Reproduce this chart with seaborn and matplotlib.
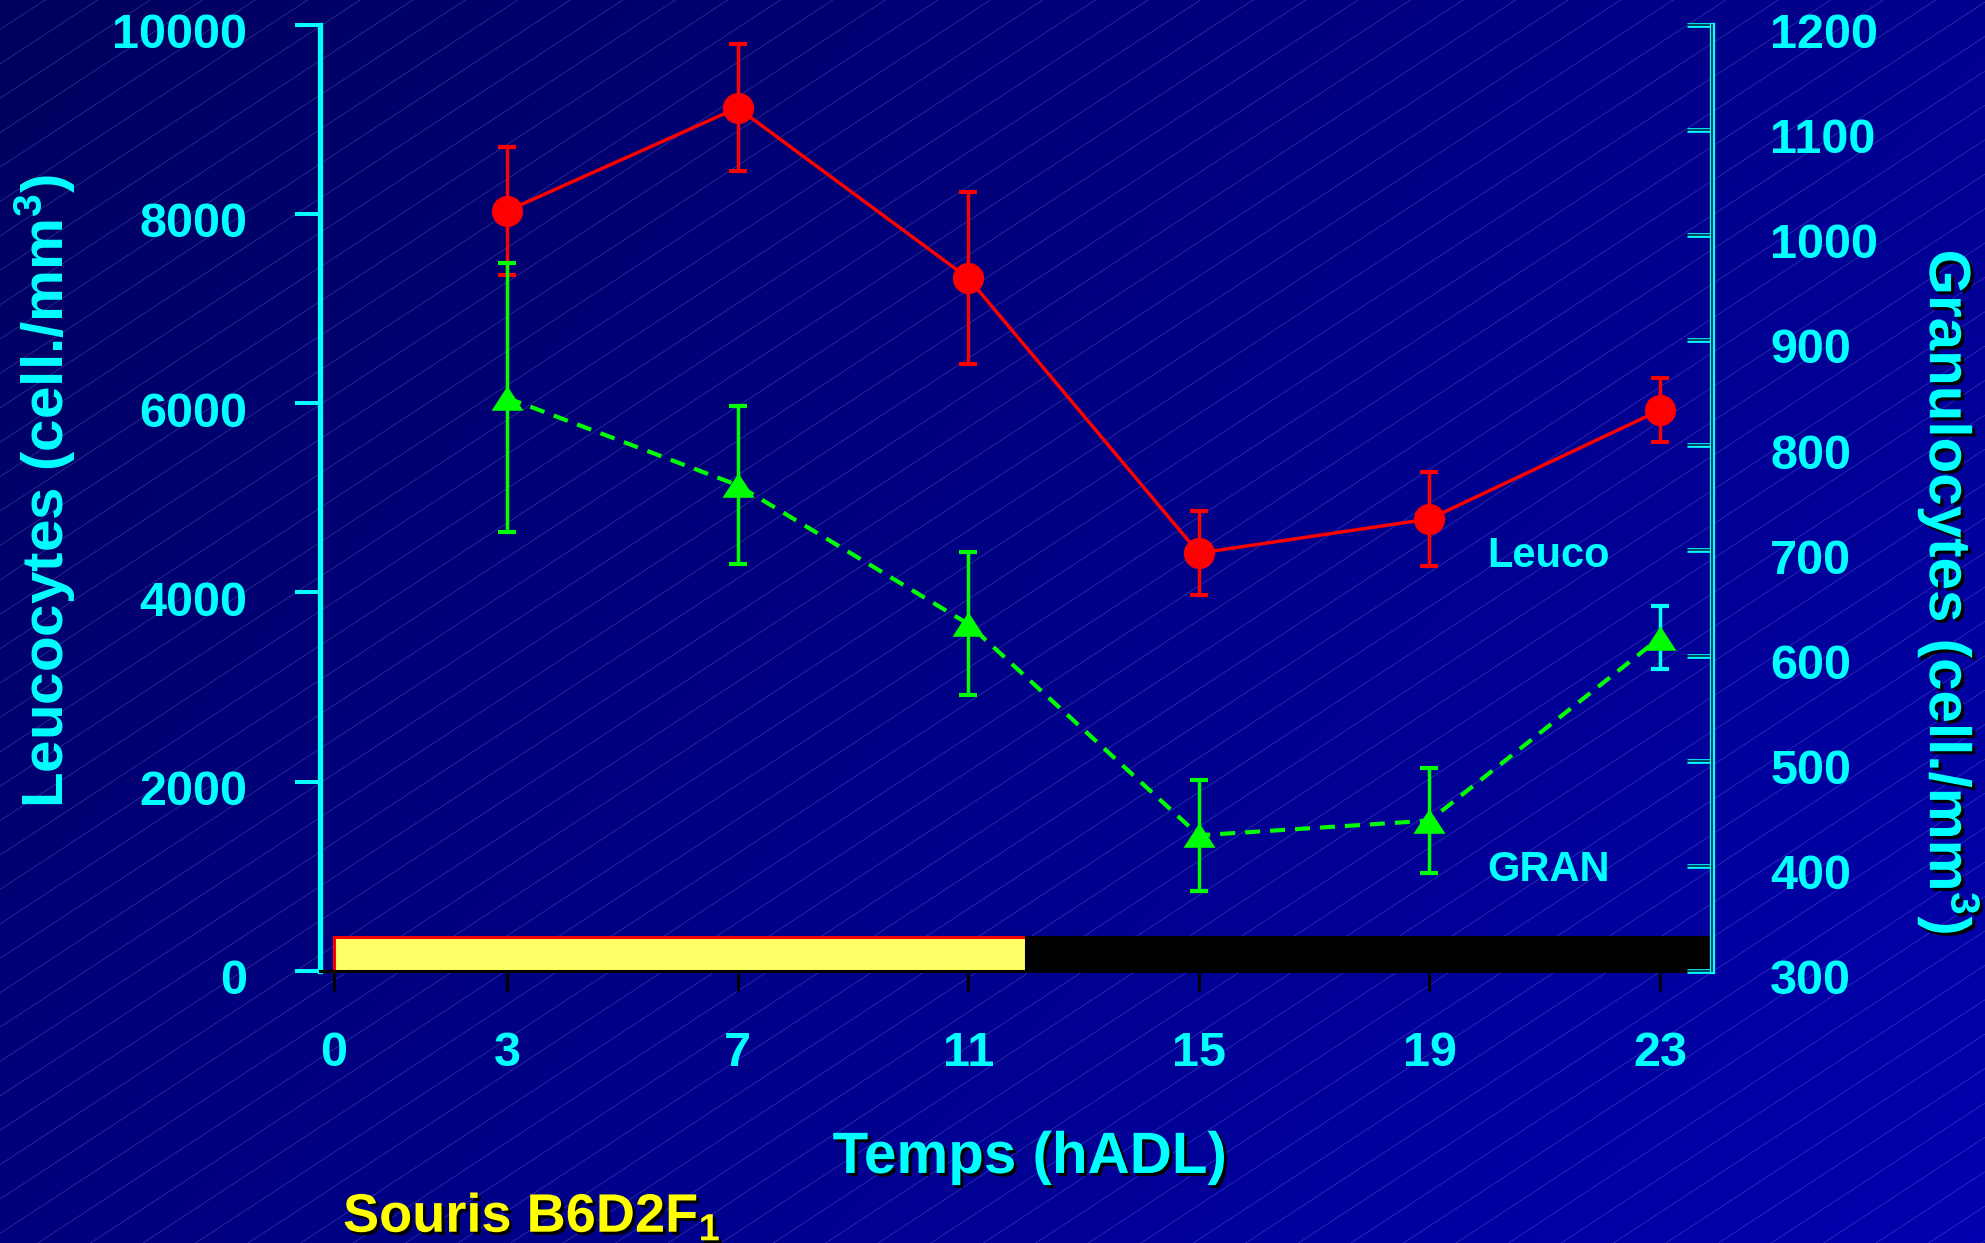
import numpy as np
import pandas as pd
import matplotlib
matplotlib.use("Agg")
import matplotlib.pyplot as plt
import matplotlib.patheffects as pe
from matplotlib.colors import LinearSegmentedColormap
from matplotlib.collections import LineCollection
from matplotlib.transforms import ScaledTranslation
import seaborn as sns

# ---- data -------------------------------------------------------------
hours = [3, 7, 11, 15, 19, 23]
leuco_mean = [8030, 9120, 7320, 4415, 4776, 5926]
leuco_sem = [680, 670, 910, 440, 495, 335]
gran_mean = [845, 762, 630, 429, 443, 617]
gran_sem = [128, 75, 68, 53, 50, 30]

x_ticks = [0, 3, 7, 11, 15, 19, 23]
left_ticks = [0, 2000, 4000, 6000, 8000, 10000]
right_ticks = [300, 400, 500, 600, 700, 800, 900, 1000, 1100, 1200]

# light (L) / dark (D) schedule, in hours after light onset
phase_start = [0, 12]
phase_length = [12, 12]

# ---- style --------------------------------------------------------------
sns.set_theme(style="ticks")
plt.rcParams["font.family"] = ["Liberation Sans", "DejaVu Sans"]
plt.rcParams["font.weight"] = "bold"
plt.rcParams["axes.labelweight"] = "bold"
plt.rcParams["mathtext.fontset"] = "custom"
plt.rcParams["mathtext.rm"] = "Liberation Sans:bold"
plt.rcParams["mathtext.bf"] = "Liberation Sans:bold"
plt.rcParams["mathtext.default"] = "rm"

CYAN = "#00FFFF"
RED = "#FF0000"
GREEN = "#00FF00"
YELLOW = "#FFFF00"
shadow = [pe.SimplePatchShadow(offset=(2.2, -2.2), shadow_rgbFace="black", alpha=1.0),
          pe.Normal()]

W, H = 1985, 1243
fig = plt.figure(figsize=(W / 100, H / 100), dpi=100)

# ---- slide background: navy gradient with fine diagonal rules -----------
bg = fig.add_axes([0, 0, 1, 1], zorder=-5)
navy = LinearSegmentedColormap.from_list("navy", ["#00005E", "#0000AE"])
gx, gy = np.meshgrid(np.linspace(0, 1, 400), np.linspace(0, 1, 250))
bg.imshow(0.62 * gx + 0.38 * gy, extent=[0, W, H, 0], cmap=navy,
          aspect="auto", vmin=0, vmax=1, interpolation="bilinear")
slope = 0.655
offsets = np.arange(29.5, H + slope * W + 40, 34.4)
segs = [[(0, c), (W, c - slope * W)] for c in offsets]
bg.add_collection(LineCollection(segs, colors=[(0.62, 0.62, 0.95, 0.34)], linewidths=0.5))
bg.set_xlim(0, W)
bg.set_ylim(H, 0)
bg.axis("off")

# ---- main axes ---------------------------------------------------------
ax = fig.add_axes([320 / W, 1 - 971 / H, 1392 / W, 946.5 / H])
ax.set_facecolor("none")
ax2 = ax.twinx()
ax2.set_facecolor("none")

# light / dark bar along the time axis
ax.bar(phase_start, [360] * len(phase_start), width=phase_length, align="edge",
       color=["#FFFF66", "black"], edgecolor=[RED, "black"], linewidth=2.2, zorder=2)

# leucocytes (left scale)
df_leuco = pd.DataFrame({"Temps": hours, "Leuco": leuco_mean})
ax.errorbar(hours, leuco_mean, yerr=leuco_sem, fmt="none", ecolor=RED,
            elinewidth=2.5, capsize=6.8, capthick=3.0, zorder=3)
sns.lineplot(data=df_leuco, x="Temps", y="Leuco", ax=ax, color=RED, linewidth=2.5,
             marker="o", markersize=22.5, markeredgewidth=0, errorbar=None, zorder=4)

# granulocytes (right scale)
df_gran = pd.DataFrame({"Temps": hours, "Gran": gran_mean})
err_colors = [GREEN] * (len(hours) - 1) + [CYAN]
for xh, m, e, c in zip(hours, gran_mean, gran_sem, err_colors):
    ax2.errorbar([xh], [m], yerr=[e], fmt="none", ecolor=c,
                 elinewidth=2.5, capsize=6.8, capthick=3.0, zorder=3)
tri = [(-1, -0.77), (1, -0.77), (0, 0.77)]
sns.lineplot(data=df_gran, x="Temps", y="Gran", ax=ax2, color=GREEN, linewidth=3,
             marker=tri, markersize=23, markeredgewidth=0, errorbar=None, zorder=4)
ax2.lines[-1].set_dashes([3.6, 2.4])

# ---- scales ------------------------------------------------------------
ax.set_xlim(-0.243, 23.9)
ax.set_ylim(0, 10000)
ax2.set_ylim(300, 1200)
ax.set_xticks(x_ticks)
ax.set_yticks(left_ticks)
ax2.set_yticks(right_ticks)

for s in ["top", "right"]:
    ax.spines[s].set_visible(False)
for s in ["top", "left", "bottom"]:
    ax2.spines[s].set_visible(False)
ax.spines["left"].set_color(CYAN)
ax.spines["left"].set_linewidth(3.8)
ax.spines["bottom"].set_color("black")
ax.spines["bottom"].set_linewidth(2.2)
ax2.spines["right"].set_color("#002244")
ax2.spines["right"].set_linewidth(1.2)
ax2.spines["right"].set_path_effects([pe.Stroke(linewidth=3.8, foreground=CYAN), pe.Normal()])

ax.tick_params(axis="y", direction="out", length=18, width=2.9, color=CYAN,
               labelcolor=CYAN, labelsize=35, pad=34.5)
ax.tick_params(axis="x", direction="out", length=14.4, width=2.2, color="black",
               labelcolor=CYAN, labelsize=35, pad=29)
ax2.tick_params(axis="y", direction="in", length=18, width=1.2, color="#002244",
                labelcolor=CYAN, labelsize=35, pad=42)
for t in ax2.yaxis.get_major_ticks():
    t.tick2line.set_path_effects([pe.Stroke(linewidth=3.4, foreground=CYAN), pe.Normal()])
xt = ax.xaxis.get_major_ticks()
xt[0].tick1line.set_color(CYAN)
xt[-1].tick1line.set_color(CYAN)

# value labels sit slightly below their tick marks
drop = ScaledTranslation(0, -6 / 100, fig.dpi_scale_trans)
for lbl in list(ax.get_yticklabels()) + list(ax2.get_yticklabels()):
    lbl.set_transform(lbl.get_transform() + drop)

# ---- labels ------------------------------------------------------------
ax.set_ylabel(r"Leucocytes (cell./mm$^3$)", fontsize=42, color=CYAN, va="center")
ax.yaxis.set_label_coords(-0.1976, 0.507)
ax2.set_ylabel(r"Granulocytes (cell./mm$^3$)", fontsize=42, color=CYAN, rotation=270,
               va="center", path_effects=shadow)
ax2.yaxis.set_label_coords(1.170, 0.400)
ax.set_xlabel("Temps (hADL)", fontsize=42, color=CYAN, va="baseline", path_effects=shadow)
ax.xaxis.set_label_coords(0.510, -0.2134)

ax.text(20.0, 4268, "Leuco", fontsize=30, color=CYAN, va="baseline", zorder=5)
ax.text(20.0, 951, "GRAN", fontsize=30, color=CYAN, va="baseline", zorder=5)

fig.text(343 / W, 1 - 1232 / H, r"Souris B6D2F$_1$", fontsize=39, color=YELLOW,
         va="baseline", path_effects=shadow)

fig.savefig("out.png", dpi=100)
